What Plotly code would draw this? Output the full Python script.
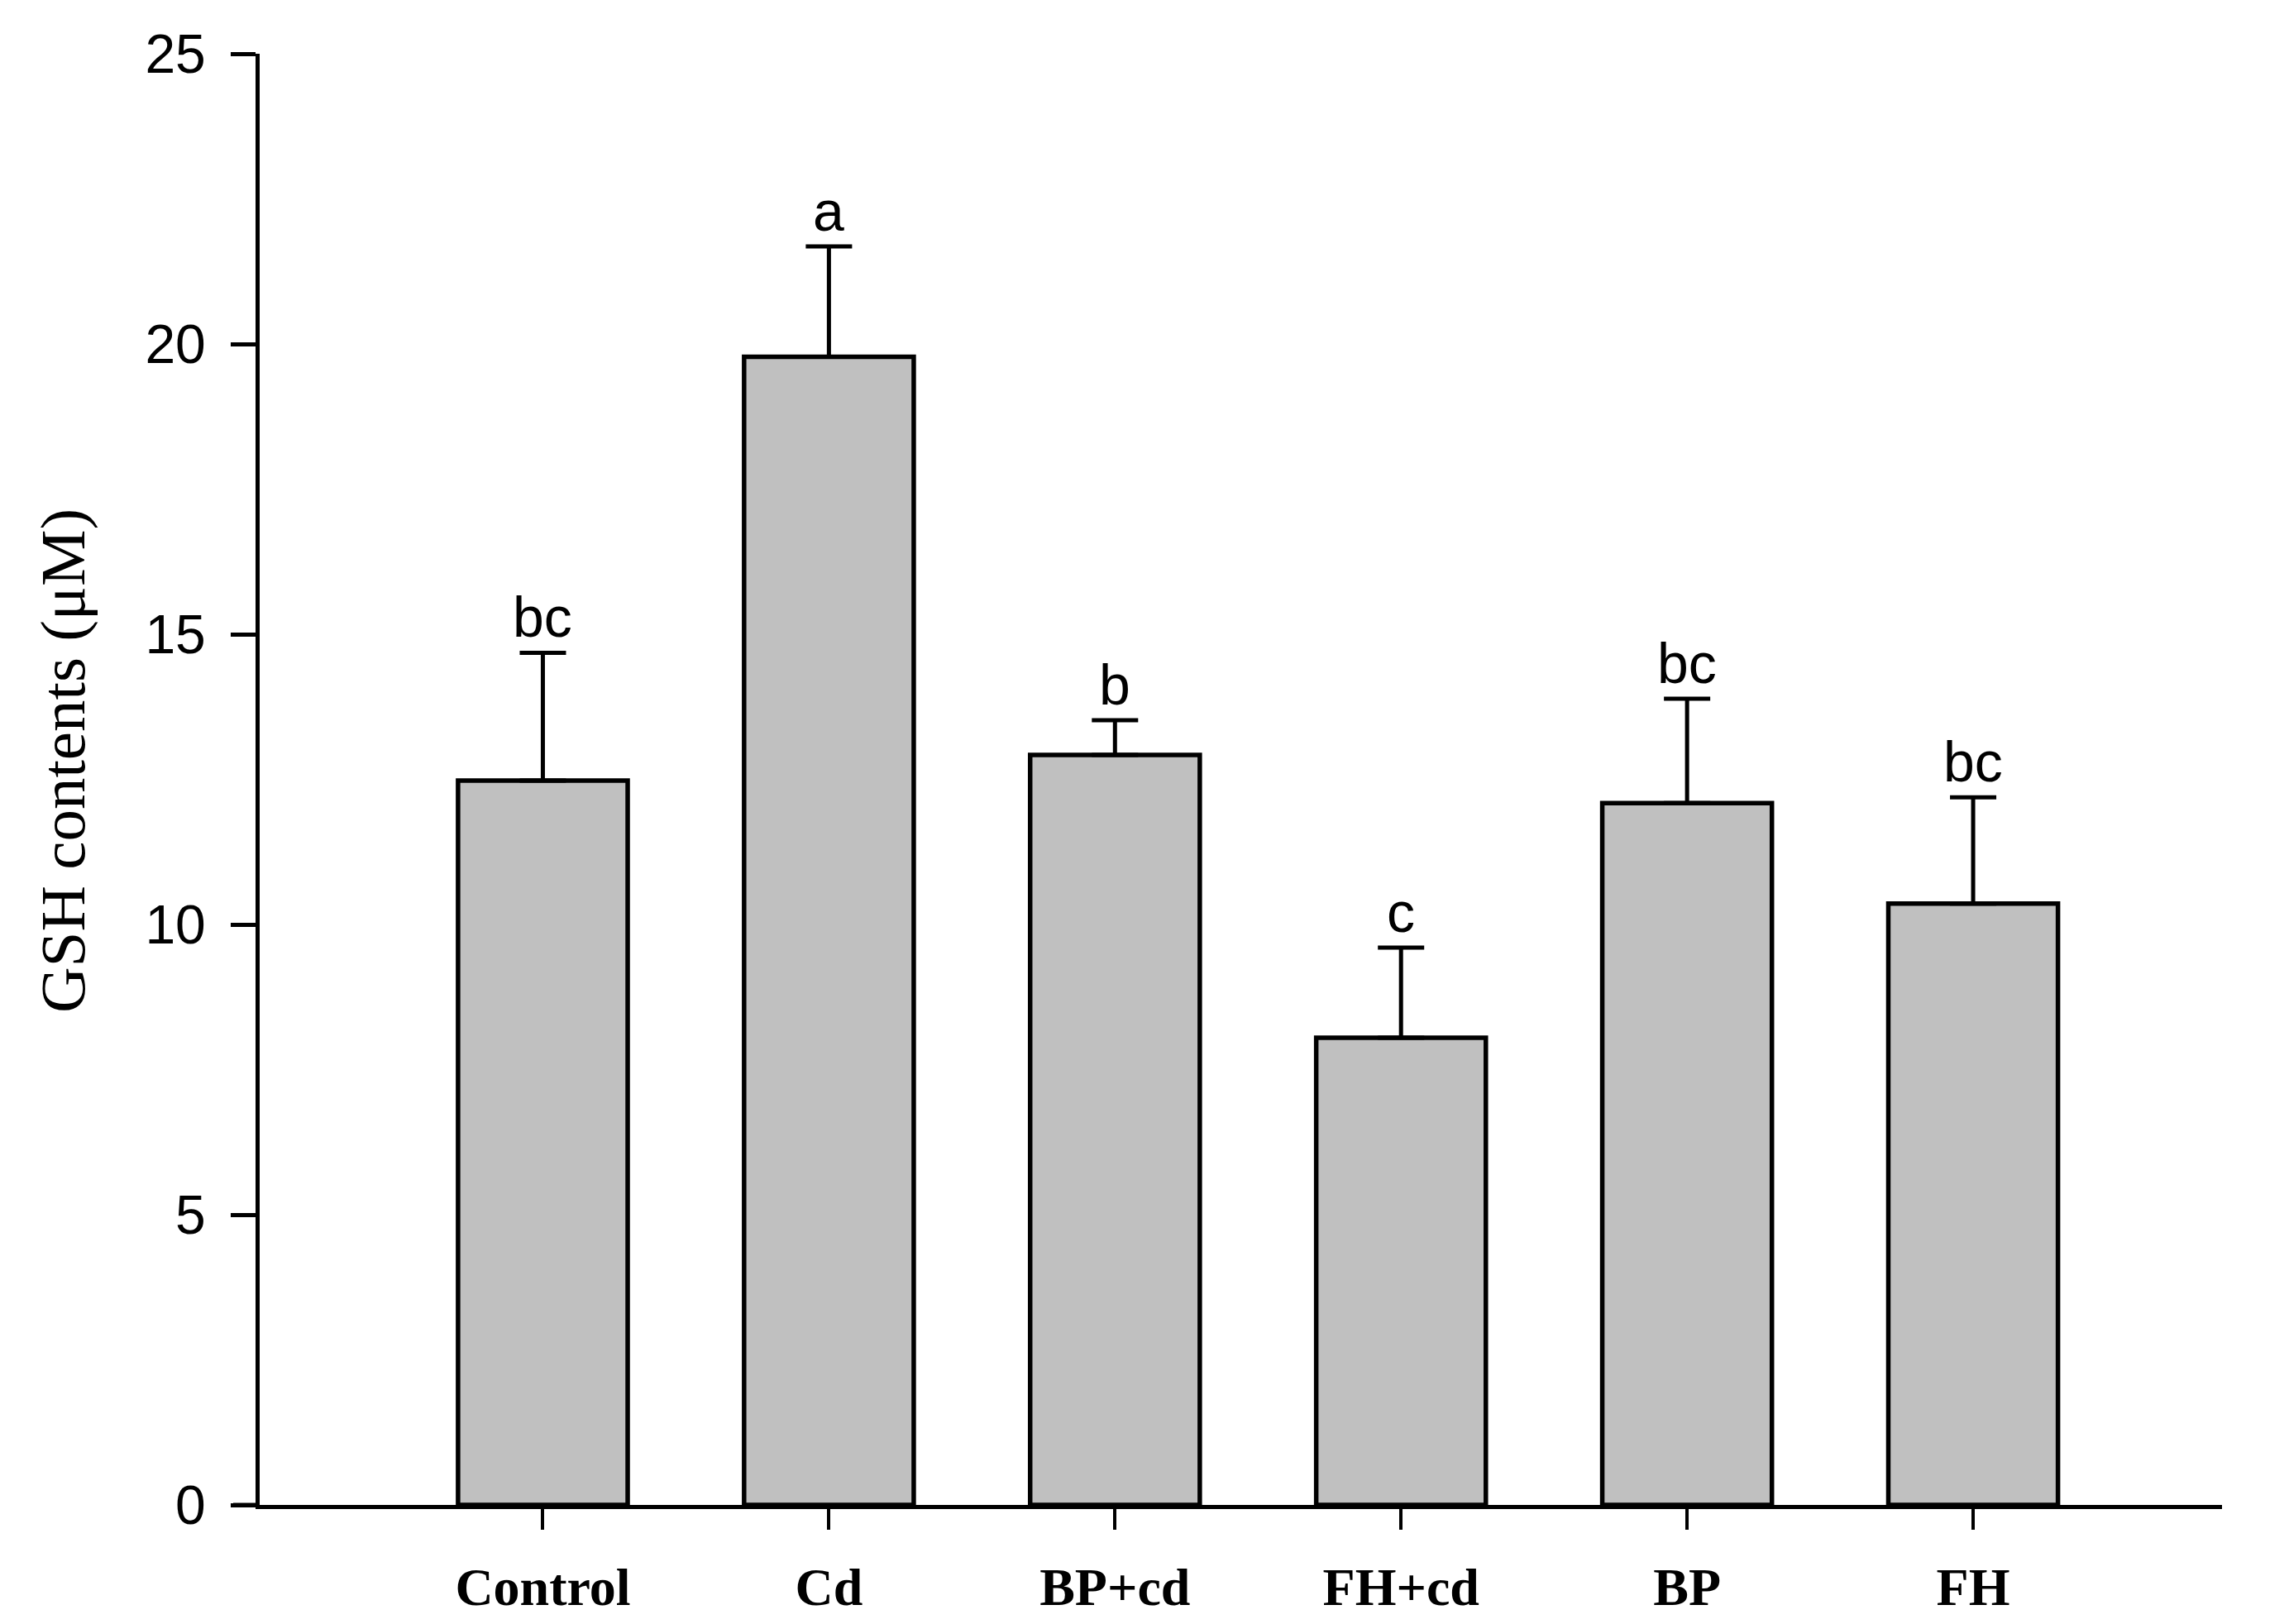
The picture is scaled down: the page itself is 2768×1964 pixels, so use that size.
import plotly.graph_objects as go

categories = ["Control", "Cd", "BP+cd", "FH+cd", "BP", "FH"]
gsh_mean = [12.48, 19.78, 12.92, 8.05, 12.09, 10.36]
gsh_err = [2.2, 1.9, 0.6, 1.55, 1.8, 1.83]
sig_letters = ["bc", "a", "b", "c", "bc", "bc"]
y_ticks = [0, 5, 10, 15, 20, 25]

# page body has an 8px margin; figure sized so the plot lands where the reference has it
W, H = 2752, 1948
L, R, T, B = 306, 73, 57, 136
plot_w = W - L - R
plot_h = H - T - B

xs = list(range(len(categories)))

fig = go.Figure()
fig.add_trace(go.Bar(
    x=xs, y=gsh_mean, width=0.593,
    marker=dict(color="#c0c0c0", line=dict(color="black", width=5.5)),
    error_y=dict(type="data", array=gsh_err, arrayminus=[0] * len(gsh_err),
                 symmetric=False, color="black", thickness=5, width=28),
    showlegend=False, hoverinfo="skip",
))

for xi, m, e, s in zip(xs, gsh_mean, gsh_err, sig_letters):
    fig.add_annotation(x=xi, y=m + e, text=s, showarrow=False,
                       xanchor="center", yanchor="bottom", yshift=3,
                       font=dict(family="Liberation Sans, Arial", size=68, color="black"))

# Y axis title
fig.add_annotation(xref="paper", yref="paper", x=(68 - L) / plot_w, y=(H - B - 912) / plot_h,
                   text="GSH contents (μM)", textangle=-90, showarrow=False,
                   xanchor="center", yanchor="middle",
                   font=dict(family="Liberation Serif, Times New Roman", size=77, color="black"))

# x axis line extension to the left of the y axis
fig.add_shape(type="line", xref="paper", yref="y", x0=-32 / plot_w, x1=0, y0=0, y1=0,
              line=dict(color="black", width=5))

fig.update_layout(
    width=W, height=H,
    margin=dict(l=L, r=R, t=T, b=B, pad=0, autoexpand=False),
    plot_bgcolor="white", paper_bgcolor="white",
    xaxis=dict(
        range=[-0.99, 5.87], tickmode="array", tickvals=xs, ticktext=categories,
        showline=True, linecolor="black", linewidth=5,
        ticks="outside", ticklen=25, tickwidth=4, tickcolor="black",
        showgrid=False, zeroline=False, ticklabelstandoff=14, automargin=False,
        tickfont=dict(family="Liberation Serif, Times New Roman", size=64, color="black", weight="bold"),
    ),
    yaxis=dict(
        range=[0, 25], tickmode="array", tickvals=y_ticks,
        ticktext=[str(v) for v in y_ticks],
        showline=True, linecolor="black", linewidth=5,
        ticks="outside", ticklen=30, tickwidth=5, tickcolor="black",
        showgrid=False, zeroline=False, ticklabelstandoff=17, automargin=False,
        tickfont=dict(family="Liberation Sans, Arial", size=66, color="black"),
    ),
)

fig.write_html("out.html")
